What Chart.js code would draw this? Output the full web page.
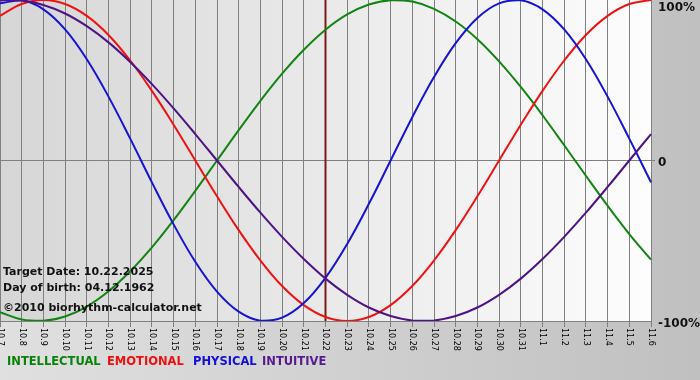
<!DOCTYPE html>
<html><head><meta charset="utf-8">
<script src="https://cdn.jsdelivr.net/npm/chart.js@4.4.1/dist/chart.umd.min.js"></script>
<style>
html,body{margin:0;padding:0;}
body{width:700px;height:380px;overflow:hidden;position:relative;background:#c8c8c8;}
#c{position:absolute;left:0;top:0;}
.t{position:absolute;font-family:"DejaVu Sans",Verdana,sans-serif;font-weight:bold;white-space:nowrap;line-height:1;}
</style></head><body>
<canvas id="c" width="700" height="380"></canvas>
<div class="t" style="left:3px;top:266px;font-size:11px;color:#111">Target Date: 10.22.2025</div>
<div class="t" style="left:3px;top:282px;font-size:11px;color:#111">Day of birth: 04.12.1962</div>
<div class="t" style="left:3px;top:302px;font-size:11px;color:#111">©2010 biorhythm-calculator.net</div>
<div class="t" style="left:7px;top:356px;font-size:11.5px;color:#0a820a">INTELLECTUAL</div>
<div class="t" style="left:107px;top:356px;font-size:11.5px;color:#f01010">EMOTIONAL</div>
<div class="t" style="left:193px;top:356px;font-size:11.5px;color:#1010d8">PHYSICAL</div>
<div class="t" style="left:262px;top:356px;font-size:11.5px;color:#5a1890">INTUITIVE</div>
<script>
const tickLabels = ['10.7','10.8','10.9','10.10','10.11','10.12','10.13','10.14','10.15','10.16','10.17','10.18','10.19','10.20','10.21','10.22','10.23','10.24','10.25','10.26','10.27','10.28','10.29','10.30','10.31','11.1','11.2','11.3','11.4','11.5','11.6'];
const targetLabel = '10.22';
const yTickLabels = ['100%','0','-100%'];
const yTickValues = [1,0,-1];

const intellectual = [-0.945,-0.990,-0.999,-0.972,-0.910,-0.815,-0.690,-0.541,-0.372,-0.189,0,0.189,0.372,0.541,0.690,0.815,0.910,0.972,0.999,0.990,0.945,0.866,0.756,0.618,0.458,0.282,0.095,-0.095,-0.282,-0.458,-0.618];
const emotional = [0.901,0.975,1.0,0.975,0.901,0.782,0.623,0.434,0.223,0,-0.223,-0.434,-0.623,-0.782,-0.901,-0.975,-1.0,-0.975,-0.901,-0.782,-0.623,-0.434,-0.223,0,0.223,0.434,0.623,0.782,0.901,0.975,1.0];
const physical = [0.979,0.998,0.942,0.817,0.631,0.398,0.136,-0.136,-0.398,-0.631,-0.817,-0.942,-0.998,-0.979,-0.888,-0.731,-0.520,-0.270,0,0.270,0.520,0.731,0.888,0.979,0.998,0.942,0.817,0.631,0.398,0.136,-0.136];
const intuitive = [0.997,0.997,0.969,0.916,0.837,0.736,0.614,0.476,0.325,0.165,0,-0.165,-0.325,-0.476,-0.614,-0.736,-0.837,-0.916,-0.969,-0.997,-0.997,-0.969,-0.916,-0.837,-0.736,-0.614,-0.476,-0.325,-0.165,0,0.165];

const bgPlugin = {
  id: 'bg',
  beforeDraw(chart) {
    const {ctx, chartArea: a, width, height} = chart;
    ctx.save();
    let g = ctx.createLinearGradient(0, 0, width, 0);
    g.addColorStop(0, '#e0e0e0');
    g.addColorStop(1, '#c0c0c0');
    ctx.fillStyle = g;
    ctx.fillRect(0, 0, width, height);
    g = ctx.createLinearGradient(a.left, 0, a.right, 0);
    g.addColorStop(0, '#d6d6d6');
    g.addColorStop(1, '#fdfdfd');
    ctx.fillStyle = g;
    ctx.fillRect(a.left, a.top, a.right - a.left, a.bottom - a.top);
    ctx.restore();
  },
  beforeDatasetsDraw(chart) {
    const {ctx, chartArea: a} = chart;
    const x = chart.scales.x.getPixelForValue(tickLabels.indexOf(targetLabel));
    ctx.save();
    ctx.strokeStyle = '#7a1c1c';
    ctx.lineWidth = 2;
    ctx.beginPath();
    ctx.moveTo(x, a.top);
    ctx.lineTo(x, a.bottom);
    ctx.stroke();
    ctx.restore();
  },
  afterDraw(chart) {
    const {ctx, chartArea: a} = chart;
    const xs = chart.scales.x, ys = chart.scales.y;
    ctx.save();
    ctx.fillStyle = '#000';
    ctx.font = '8px "DejaVu Sans"';
    ctx.textAlign = 'left';
    ctx.textBaseline = 'middle';
    tickLabels.forEach((lab, i) => {
      const x = xs.getPixelForValue(i);
      ctx.save();
      ctx.translate(x, a.bottom + 7);
      ctx.rotate(Math.PI / 2);
      ctx.fillText(lab, 0, 0);
      ctx.restore();
    });
    ctx.fillStyle = '#111';
    ctx.font = 'bold 12px "DejaVu Sans"';
    ctx.textBaseline = 'alphabetic';
    yTickValues.forEach((v, i) => {
      const y = Math.max(ys.getPixelForValue(v) + 1.5, 7);
      ctx.fillText(yTickLabels[i], a.right + 7, y + 4.4);
    });
    ctx.restore();
  }
};

new Chart(document.getElementById('c'), {
  type: 'line',
  data: {
    labels: tickLabels,
    datasets: [
      {label: 'INTELLECTUAL', data: intellectual, borderColor: '#128412', order: 3},
      {label: 'EMOTIONAL', data: emotional, borderColor: '#ee1212', order: 2},
      {label: 'PHYSICAL', data: physical, borderColor: '#1414d4', order: 1},
      {label: 'INTUITIVE', data: intuitive, borderColor: '#4e1484', order: 0}
    ]
  },
  options: {
    responsive: false,
    devicePixelRatio: 1,
    animation: false,
    layout: {padding: {left: 0, top: 0, right: 45, bottom: 53}},
    elements: {
      line: {borderWidth: 2, tension: 0.4, fill: false},
      point: {radius: 0, hoverRadius: 0}
    },
    plugins: {legend: {display: false}, tooltip: {enabled: false}},
    events: [],
    scales: {
      x: {
        offset: false,
        grid: {color: '#808080', lineWidth: 1, drawTicks: true, tickLength: 6},
        border: {display: true, color: '#808080'},
        ticks: {display: false}
      },
      y: {
        position: 'right',
        min: -1, max: 1,
        grid: {
          color: (c) => (c.tick && c.tick.value === 0) ? '#808080' : 'rgba(0,0,0,0)',
          drawTicks: true, tickLength: 4
        },
        border: {display: true, color: '#808080'},
        ticks: {display: false, stepSize: 1}
      }
    }
  },
  plugins: [bgPlugin]
});
</script>
</body></html>
